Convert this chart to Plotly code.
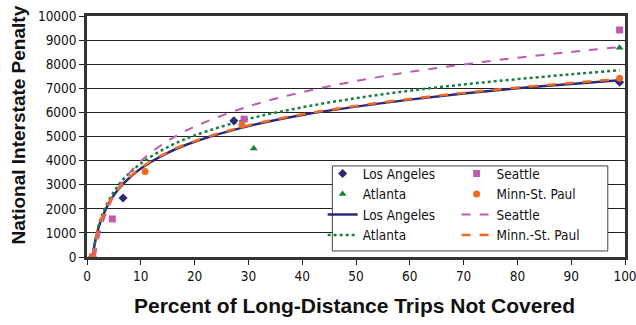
import plotly.graph_objects as go

# ---- data ----
curve_x = [1, 2, 3, 5, 7, 10, 15, 20, 30, 40, 50, 60, 70, 80, 90, 99]
la_curve = [0, 1100, 1750, 2570, 3100, 3670, 4320, 4780, 5430, 5890, 6240, 6530, 6780, 7000, 7180, 7330]
minn_curve = [0, 1110, 1760, 2590, 3120, 3700, 4350, 4810, 5460, 5920, 6270, 6560, 6810, 7030, 7220, 7385]
atl_curve = [0, 1170, 1850, 2710, 3280, 3880, 4560, 5040, 5730, 6210, 6590, 6900, 7160, 7380, 7580, 7750]
sea_curve_x = [1.45, 2, 3, 5, 7, 10, 15, 20, 30, 40, 50, 60, 70, 80, 90, 99]
sea_curve = [0, 660, 1500, 2550, 3240, 3980, 4820, 5410, 6250, 6840, 7300, 7680, 7990, 8270, 8510, 8710]

la_x = [1, 6.7, 27.3, 99]
la_y = [0, 2450, 5650, 7250]
atl_x = [1, 31.0, 99]
atl_y = [0, 4500, 8680]
sea_x = [1, 4.7, 29.2, 99]
sea_y = [0, 1580, 5720, 9420]
minn_x = [1, 10.8, 28.8, 99]
minn_y = [0, 3550, 5480, 7420]

x_ticks = list(range(0, 101, 10))
y_ticks = list(range(0, 10001, 1000))

x_title = "Percent of Long-Distance Trips Not Covered"
y_title = "National Interstate Penalty"

NAVY = "#2b2a78"
GREEN = "#17803d"
PINK = "#c05aae"
ORANGE = "#f26a1f"
TICKFONT = "Liberation Sans Narrow, Arial Narrow, DejaVu Sans Condensed, sans-serif"
TITLEFONT = "Liberation Sans, Arial, sans-serif"

fig = go.Figure()

# curves (drawn first)
fig.add_trace(go.Scatter(x=curve_x, y=la_curve, mode="lines", name="Los Angeles",
                         line=dict(color=NAVY, width=2.5, shape="spline"),
                         legend="legend", legendrank=3))
fig.add_trace(go.Scatter(x=curve_x, y=atl_curve, mode="lines", name="Atlanta",
                         line=dict(color=GREEN, width=2.5, dash="dot", shape="spline"),
                         legend="legend", legendrank=4))
fig.add_trace(go.Scatter(x=sea_curve_x, y=sea_curve, mode="lines", name="Seattle",
                         line=dict(color=PINK, width=2, dash="dash", shape="spline"),
                         legend="legend2", legendrank=3))
fig.add_trace(go.Scatter(x=curve_x, y=minn_curve, mode="lines", name="Minn.-St. Paul",
                         line=dict(color=ORANGE, width=2.5, dash="dash", shape="spline"),
                         legend="legend2", legendrank=4))

# markers
fig.add_trace(go.Scatter(x=la_x, y=la_y, mode="markers", name="Los Angeles",
                         marker=dict(symbol="diamond", color=NAVY, size=7),
                         legend="legend", legendrank=1))
fig.add_trace(go.Scatter(x=atl_x, y=atl_y, mode="markers", name="Atlanta",
                         marker=dict(symbol="triangle-up", color=GREEN, size=7),
                         legend="legend", legendrank=2))
fig.add_trace(go.Scatter(x=sea_x, y=sea_y, mode="markers", name="Seattle",
                         marker=dict(symbol="square", color=PINK, size=7),
                         legend="legend2", legendrank=1))
fig.add_trace(go.Scatter(x=minn_x, y=minn_y, mode="markers", name="Minn-St. Paul",
                         marker=dict(symbol="circle", color=ORANGE, size=7),
                         legend="legend2", legendrank=2))

legend_common = dict(
    orientation="v", xanchor="left", yanchor="top",
    itemwidth=30, bgcolor="rgba(0,0,0,0)", borderwidth=0,
    font=dict(family=TICKFONT, size=13.5, color="#111"),
    tracegroupgap=0,
)

fig.update_layout(
    width=636, height=325,
    margin=dict(l=87, r=11, t=16, b=68, autoexpand=False),
    paper_bgcolor="white", plot_bgcolor="white",
    showlegend=True,
    legend=dict(x=0.438, y=0.41, **legend_common),
    legend2=dict(x=0.687, y=0.41, **legend_common),
    font=dict(family=TICKFONT, size=13, color="#111"),
    shapes=[dict(type="rect", xref="paper", yref="paper",
                 x0=0.456, x1=0.968, y0=0.025, y1=0.378,
                 fillcolor="white", line=dict(color="#444", width=1), layer="above")],
    annotations=[
        dict(text=x_title, xref="paper", yref="paper", x=0.497, y=0,
             xanchor="center", yanchor="middle", yshift=-48, showarrow=False,
             font=dict(family=TITLEFONT, size=21, color="#111", weight="bold")),
        dict(text=y_title, xref="paper", yref="paper", x=0, y=0.546,
             xanchor="center", yanchor="middle", xshift=-69, textangle=-90, showarrow=False,
             font=dict(family=TITLEFONT, size=19, color="#111", weight="bold")),
    ],
)

fig.update_xaxes(
    range=[0, 100], tickvals=x_ticks, ticktext=[str(v) for v in x_ticks],
    ticks="outside", ticklen=5, tickcolor="#222", ticklabeloverflow="allow",
    showgrid=False, zeroline=False,
    showline=True, linecolor="#333", linewidth=2.5, mirror=True,
    tickfont=dict(family=TICKFONT, size=13.5, color="#111"),
)
fig.update_yaxes(
    range=[0, 10000], tickvals=y_ticks, ticktext=[str(v) for v in y_ticks],
    ticks="outside", ticklen=5, tickcolor="#222", ticklabeloverflow="allow",
    showgrid=True, gridcolor="#222", gridwidth=1, zeroline=False,
    showline=True, linecolor="#333", linewidth=2.5, mirror=True,
    tickfont=dict(family=TICKFONT, size=13.5, color="#111"),
)

fig.write_html("out.html",
               config={"displayModeBar": False},
               post_script="document.body.style.margin='0';document.body.style.overflow='hidden';")
